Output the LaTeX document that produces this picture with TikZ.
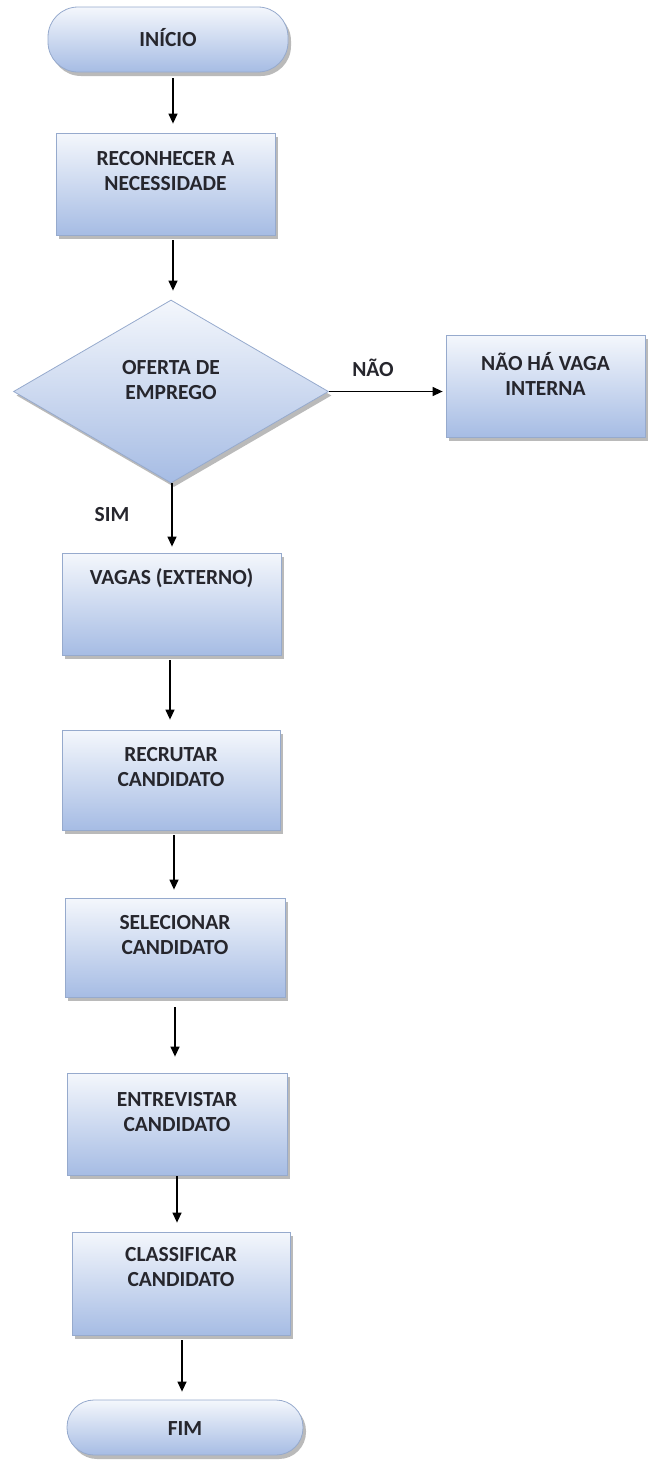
\documentclass[tikz,border=0pt]{standalone}
\usepackage{fontspec}
\setmainfont{Carlito}
\usetikzlibrary{arrows.meta,shapes.geometric,shadows}
\definecolor{boxtop}{RGB}{244,247,252}
\definecolor{boxbot}{RGB}{166,188,228}
\definecolor{boxline}{RGB}{150,170,205}
\definecolor{txtcol}{RGB}{38,38,45}
\tikzset{
  flowbox/.style={draw=boxline, line width=0.8pt, top color=boxtop, bottom color=boxbot,
    drop shadow={shadow xshift=3pt, shadow yshift=-4pt, fill=black!45, opacity=0.6},
    inner sep=0pt},
  termbox/.style={flowbox, rounded corners=30pt},
  decbox/.style={flowbox, shape=diamond, inner sep=0pt},
  txt/.style={font=\bfseries\fontsize{21.5}{25}\selectfont, text=txtcol, align=center, inner sep=0pt},
  arr/.style={-{Triangle[length=10pt,width=9pt]}, line width=1.3pt, black}
}
\begin{document}
\begin{tikzpicture}[x=1pt,y=-1pt]
\useasboundingbox (0,0) rectangle (654,1465);
% nodes
\node[termbox, minimum width=240pt, minimum height=65pt] (ini) at (168,39.5) {};
\node[txt] (tini) at (168,38) {INÍCIO};
\node[flowbox, minimum width=219pt, minimum height=102pt] (b1) at (165.5,184) {};
\node[txt] (tb1) at (165.5,171) {RECONHECER A\\NECESSIDADE};
\node[decbox, minimum width=315pt, minimum height=183pt] (d) at (171,391.5) {};
\node[txt] (td) at (171,380) {OFERTA DE\\EMPREGO};
\node[flowbox, minimum width=199pt, minimum height=102pt] (bn) at (545.5,386) {};
\node[txt] (tbn) at (545.5,373.5) {NÃO HÁ VAGA\\INTERNA};
\node[flowbox, minimum width=219pt, minimum height=102pt] (b2) at (171.5,604) {};
\node[txt] (tb2) at (171.5,578) {VAGAS (EXTERNO)};
\node[flowbox, minimum width=218pt, minimum height=100pt] (b3) at (171,780) {};
\node[txt] (tb3) at (171,767.5) {RECRUTAR\\CANDIDATO};
\node[flowbox, minimum width=220pt, minimum height=99pt] (b4) at (175,947.5) {};
\node[txt] (tb4) at (175,935) {SELECIONAR\\CANDIDATO};
\node[flowbox, minimum width=220pt, minimum height=102pt] (b5) at (177,1124) {};
\node[txt] (tb5) at (177,1112.5) {ENTREVISTAR\\CANDIDATO};
\node[flowbox, minimum width=218pt, minimum height=103pt] (b6) at (181,1283.5) {};
\node[txt] (tb6) at (181,1267.5) {CLASSIFICAR\\CANDIDATO};
\node[termbox, minimum width=236pt, minimum height=55pt, rounded corners=27pt] (fim) at (185,1427.5) {};
\node[txt] (tfim) at (185,1429) {FIM};
% labels
\node[txt] (lnao) at (373,368) {NÃO};
\node[txt] (lsim) at (112,515) {SIM};
% connectors
\draw[arr, shorten <=6pt, shorten >=9pt] ([xshift=5pt]ini.south) -- ([xshift=7.5pt]b1.north);
\draw[arr, shorten <=5pt, shorten >=9pt] ([xshift=7.5pt]b1.south) -- ([xshift=2pt]d.north);
\draw[arr, shorten >=3pt] (d.east) -- (d.east -| bn.west);
\draw[arr, shorten >=6pt] ([xshift=1pt]d.south) -- ([xshift=0.5pt]b2.north);
\draw[arr, shorten <=5pt, shorten >=10pt] ([xshift=-1.5pt]b2.south) -- ([xshift=-1pt]b3.north);
\draw[arr, shorten <=5pt, shorten >=8pt] ([xshift=3pt]b3.south) -- ([xshift=-1pt]b4.north);
\draw[arr, shorten <=10pt, shorten >=16pt] (b4.south) -- ([xshift=-2pt]b5.north);
\draw[arr, shorten <=1pt, shorten >=9pt] (b5.south) -- ([xshift=-4pt]b6.north);
\draw[arr, shorten <=5pt, shorten >=8pt] ([xshift=1pt]b6.south) -- ([xshift=-3pt]fim.north);
\end{tikzpicture}
\end{document}
